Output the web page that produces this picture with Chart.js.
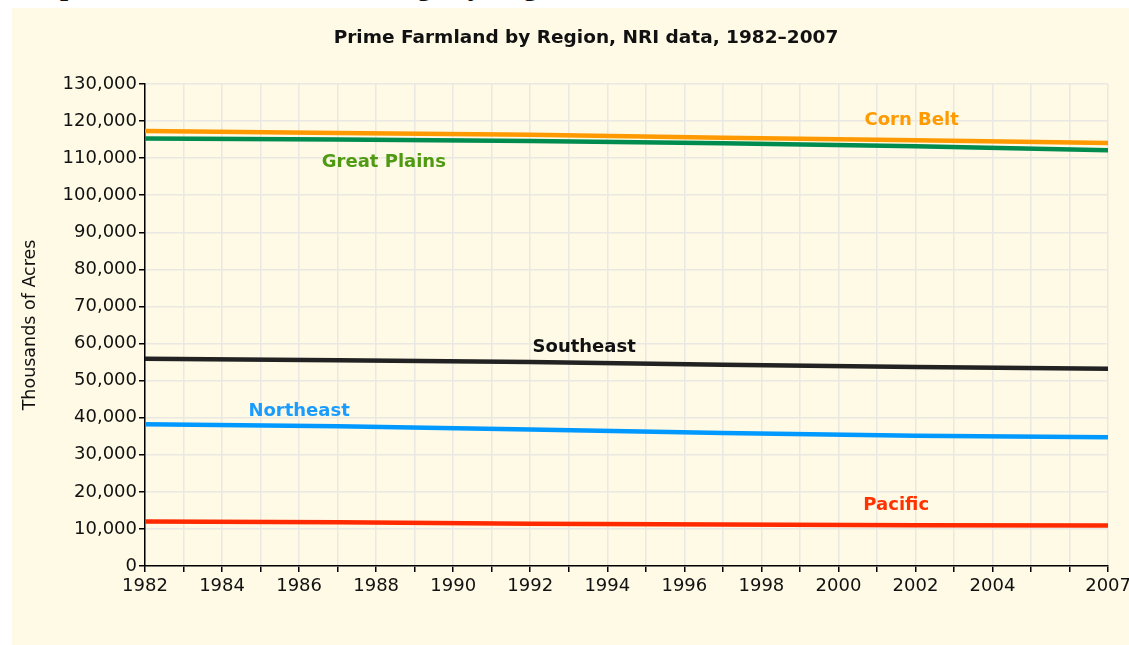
<!DOCTYPE html>
<html>
<head>
<meta charset="utf-8">
<script src="https://cdn.jsdelivr.net/npm/chart.js@4.4.1/dist/chart.umd.min.js"></script>
<style>
  html, body { margin: 0; padding: 0; background: #fff; width: 1129px; height: 645px; overflow: hidden; position: relative; }
  #heading { position: absolute; left: 10px; top: -31px; font: bold 29px "Liberation Serif", serif; white-space: nowrap; color: #111; }
  #panel { position: absolute; left: 12px; top: 8px; width: 1117px; height: 637px; background: #fefae6; overflow: hidden; }
</style>
</head>
<body>
<div id="heading">Graph 2: Prime Farmland Acreage by Region, 1982–2007</div>
<div id="panel"><canvas id="chart" width="1123" height="637"></canvas></div>
<script>
// NRI survey years and acreage (thousands of acres)
const years       = [1982, 1987, 1992, 1997, 2002, 2007];
const cornBelt    = [117300, 116800, 116300, 115500, 114800, 114100];
const greatPlains = [115300, 115000, 114600, 114000, 113200, 112100];
const southeast   = [55900, 55500, 55000, 54300, 53700, 53200];
const northeast   = [38200, 37700, 36800, 35900, 35100, 34700];
const pacific     = [12000, 11800, 11400, 11200, 11000, 10900];

const regionNames = ['Corn Belt', 'Great Plains', 'Southeast', 'Northeast', 'Pacific'];
const lineColors  = ['#ff9900', '#008c4f', '#222222', '#0099ff', '#ff2a00'];
const labelColors = ['#ff9a00', '#4f9a12', '#111111', '#1a9cff', '#ff3300'];

const chartTitle = 'Prime Farmland by Region, NRI data, 1982–2007';
const FONT = '"DejaVu Sans", sans-serif';

// where each region name sits (year, value)
const labelSpots = [
  { year: 2001.9, value: 120300 },
  { year: 1988.2, value: 108900 },
  { year: 1993.4, value: 58900 },
  { year: 1986.0, value: 41600 },
  { year: 2001.5, value: 16300 }
];

const pts = arr => years.map((y, i) => ({ x: y, y: arr[i] }));
const series = [cornBelt, greatPlains, southeast, northeast, pacific];

// title sits a little right of the panel centre, like the original
const titleText = {
  id: 'titleText',
  afterDraw(chart) {
    const { ctx } = chart;
    ctx.save();
    ctx.font = 'bold 18.5px ' + FONT;
    ctx.fillStyle = '#111';
    ctx.textAlign = 'center';
    ctx.textBaseline = 'middle';
    ctx.fillText(chartTitle, 574, 30);
    ctx.restore();
  }
};

const lineLabels = {
  id: 'lineLabels',
  afterDatasetsDraw(chart) {
    const { ctx, scales: { x, y } } = chart;
    ctx.save();
    ctx.font = 'bold 18px ' + FONT;
    ctx.textAlign = 'center';
    ctx.textBaseline = 'middle';
    labelSpots.forEach((s, i) => {
      ctx.fillStyle = labelColors[i];
      ctx.fillText(regionNames[i], x.getPixelForValue(s.year), y.getPixelForValue(s.value));
    });
    ctx.restore();
  }
};

new Chart(document.getElementById('chart'), {
  type: 'line',
  data: {
    datasets: series.map((arr, i) => ({
      label: regionNames[i],
      data: pts(arr),
      borderColor: lineColors[i],
      backgroundColor: lineColors[i],
      borderWidth: 4.5,
      pointRadius: 0,
      tension: 0
    }))
  },
  options: {
    responsive: false,
    animation: false,
    layout: { padding: { top: 76, right: 15 } },
    plugins: {
      legend: { display: false },
      tooltip: { enabled: false },
      title: { display: false }
    },
    scales: {
      x: {
        type: 'linear', min: 1982, max: 2007,
        afterFit: s => { s.height = 79; },
        grid: { color: '#e9e8e2', lineWidth: 1.5, tickLength: 6, tickColor: '#000' },
        border: { color: '#000', width: 1.5 },
        ticks: {
          stepSize: 1, autoSkip: false, maxRotation: 0, padding: 4,
          color: '#111', font: { family: FONT, size: 18 },
          callback: v => ((v <= 2004 && v % 2 === 0) || v === 2007) ? String(v) : ''
        }
      },
      y: {
        min: 0, max: 130000,
        afterFit: s => { s.width = 133; },
        grid: { color: '#e9e8e2', lineWidth: 1.5, tickLength: 6, tickColor: '#000' },
        border: { color: '#000', width: 1.5 },
        title: {
          display: true, text: 'Thousands of Acres', color: '#111',
          font: { family: FONT, size: 17.5 }, padding: { top: 8, bottom: 0 }
        },
        ticks: {
          stepSize: 10000, padding: 2,
          color: '#111', font: { family: FONT, size: 18 },
          callback: v => v.toLocaleString('en-US')
        }
      }
    }
  },
  plugins: [lineLabels, titleText]
});
</script>
</body>
</html>
